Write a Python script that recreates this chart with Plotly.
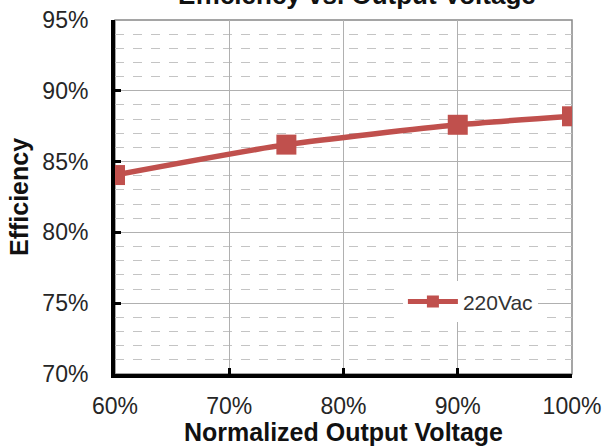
import plotly.graph_objects as go

x_vals = [60, 75, 90, 100]
efficiency = [84.05, 86.2, 87.6, 88.2]
series_name = "220Vac"
title_text = "Efficiency vs. Output Voltage"
x_title = "Normalized Output Voltage"
y_title = "Efficiency"

red = "#C0504D"
font_fam = "Liberation Sans, Arial, sans-serif"

fig = go.Figure()
fig.add_trace(go.Scatter(
    x=x_vals, y=efficiency, name=series_name, mode="lines+markers",
    line=dict(color=red, width=5.5, shape="spline", smoothing=0.6),
    marker=dict(symbol="square", size=20, color=red),
    showlegend=False,
))
# legend entry (smaller marker as in the reference legend)
fig.add_trace(go.Scatter(
    x=[None], y=[None], name=series_name, mode="lines+markers",
    line=dict(color=red, width=5),
    marker=dict(symbol="square", size=12, color=red),
    showlegend=True,
))

fig.update_layout(
    width=609, height=446,
    margin=dict(l=115, r=37, t=20, b=72),
    paper_bgcolor="white", plot_bgcolor="white",
    font=dict(family=font_fam, color="#262626", size=23),
    showlegend=True,
    legend=dict(x=0.63, y=0.204, xanchor="left", yanchor="middle",
                bgcolor="white", font=dict(size=21, color="#333333"),
                itemwidth=50, borderwidth=0),
    xaxis=dict(range=[60, 100], dtick=10, ticksuffix="%", automargin=False,
               showgrid=True, gridcolor="#B0B0B0", gridwidth=1,
               showline=True, linecolor="black", linewidth=4, mirror=False,
               ticks="inside", ticklen=6, tickwidth=3, tickcolor="black",
               ticklabelstandoff=8, zeroline=False,
               title=dict(text=x_title, font=dict(size=25, color="#111111", weight="bold"), standoff=8)),
    yaxis=dict(range=[70, 95], dtick=5, ticksuffix="%", automargin=False,
               showgrid=True, gridcolor="#B0B0B0", gridwidth=1,
               minor=dict(dtick=1, showgrid=True, gridcolor="#C4C4C4", griddash="dash", gridwidth=1),
               showline=True, linecolor="black", linewidth=4, mirror=False,
               ticks="inside", ticklen=6, tickwidth=3, tickcolor="black",
               ticklabelstandoff=18, zeroline=False,
               title=dict(text=y_title, font=dict(size=25, color="#111111", weight="bold"), standoff=8)),
)

# thin gray top/right border
fig.add_shape(type="rect", xref="paper", yref="paper", x0=0, y0=0, x1=1, y1=1,
              line=dict(color="#888888", width=1.5), layer="below")

fig.add_annotation(text="<b>" + title_text + "</b>", xref="paper", yref="paper",
                   x=0.53, y=1.072, xanchor="center", yanchor="middle",
                   showarrow=False, font=dict(size=26, color="#111111", family=font_fam))

fig.write_html("out.html", config={"displayModeBar": False},
               post_script="document.body.style.margin='0';document.body.style.overflow='hidden';")
